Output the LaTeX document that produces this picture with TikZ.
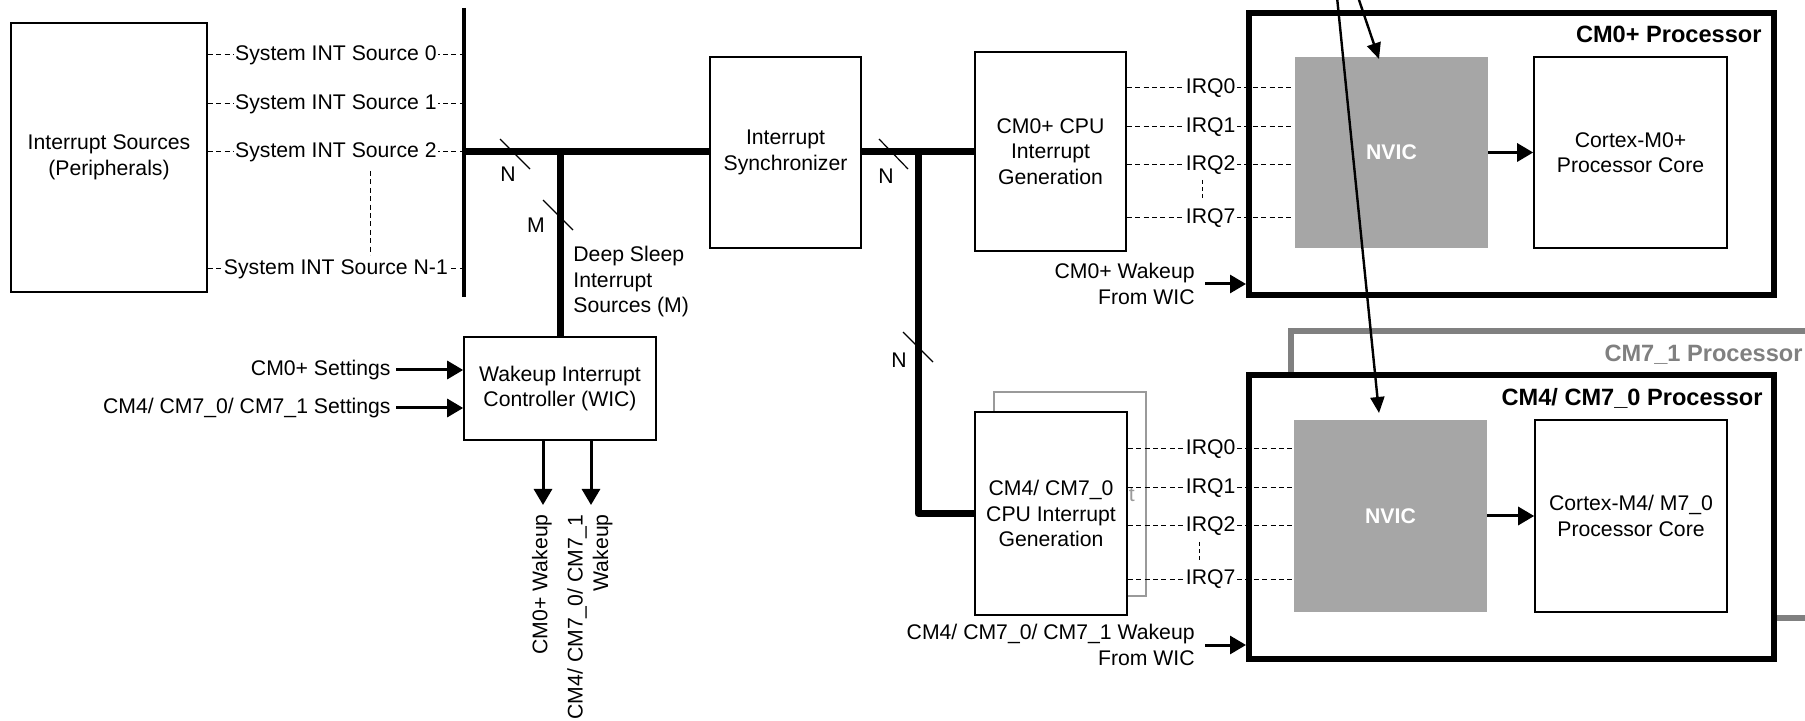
\documentclass[tikz,border=0pt]{standalone}
\usepackage{fontspec}
\setmainfont{Liberation Sans}
\usetikzlibrary{arrows.meta,fit}
\definecolor{nvicgray}{HTML}{A6A6A6}
\definecolor{procgray}{HTML}{808080}
\definecolor{backgray}{HTML}{9A9A9A}
\begin{document}
\begin{tikzpicture}[x=0.5pt,y=-0.5pt,
 font=\fontsize{10.6pt}{12.75pt}\selectfont,
 box/.style={draw, line width=0.8pt, inner sep=0pt},
 btxt/.style={inner sep=0pt, align=center},
 proc/.style={draw, line width=3pt, inner sep=0pt, fill=white},
 nvic/.style={fill=nvicgray, inner sep=0pt},
 nvtxt/.style={inner sep=0pt, text=white, font=\fontsize{10.6pt}{12.75pt}\selectfont\bfseries},
 dsh/.style={line width=0.5pt, dash pattern=on 2.5pt off 1.7pt},
 lbl/.style={fill=white, inner sep=0.6pt},
 thickbus/.style={line width=3.5pt, line join=round},
 arr/.style={line width=1.5pt, -{Triangle[length=8pt,width=9pt]}},
 tarr/.style={line width=1.2pt, -{Triangle[length=8pt,width=7pt]}},
 slash/.style={line width=0.6pt},
 txt/.style={inner sep=0pt},
 ptitle/.style={font=\fontsize{11.8pt}{14pt}\selectfont\bfseries, anchor=east, inner sep=0pt},
]
\clip (0,0) rectangle (1805,721);

% interrupt sources
\node[box, fit={(11,23) (207,292)}] (src) {};
\node[btxt] (srct) at (src.center) {Interrupt Sources\\(Peripherals)};
\coordinate (bt) at (464,8);
\coordinate (bb) at (464,297);
\draw[line width=1.65pt] (bt) -- (bb);
\foreach \y/\t [count=\i] in {55/System INT Source 0, 104/System INT Source 1, 152/System INT Source 2, 269/System INT Source N-1} {
  \coordinate (b\i) at (464,\y);
  \draw[dsh] (src.east |- b\i) -- node[lbl] (s\i) {\t} (b\i);
}
\coordinate (v1) at (370,171);
\coordinate (v2) at (370,255);
\draw[dsh] (v1) -- (v2);

% synchronizer and WIC
\node[box, fit={(710,57) (861,248)}] (sync) {};
\node[btxt] (synct) at (sync.center) {Interrupt\\Synchronizer};
\node[box, fit={(464,337) (656,440)}] (wic) {};
\node[btxt] (wict) at (wic.center) {Wakeup Interrupt\\Controller (WIC)};
\coordinate (j1) at (560,152);
\draw[thickbus] (b3) -- (b3 -| sync.west);
\draw[thickbus] (j1) -- (j1 |- wic.north);
\draw[slash] (500,139) -- (530,169);
\node[txt] (n1) at (508,174) {N};
\draw[slash] (543,200) -- (573,230);
\node[txt] (m1) at (536,225) {M};
\node[txt, anchor=west, align=left] (ds) at (573,282) {Deep Sleep\\Interrupt\\Sources (M)};

% settings
\node[txt, anchor=east] (st0) at (391,370) {CM0+ Settings};
\node[txt, anchor=east] (st1) at (391,408) {CM4/ CM7\_0/ CM7\_1 Settings};
\draw[arr] ([xshift=2.5pt]st0.east) -- (st0.east -| wic.west);
\draw[arr] ([xshift=2.5pt]st1.east) -- (st1.east -| wic.west);

% wakeup outputs
\coordinate (wa) at (543,505);
\coordinate (wb) at (591,505);
\draw[arr] (wa |- wic.south) -- (wa);
\draw[arr] (wb |- wic.south) -- (wb);
\node[txt, rotate=90, anchor=east] (wla) at (542,514) {CM0+ Wakeup};
\node[txt, rotate=90, anchor=east, align=right] (wlb) at (590,514) {CM4/ CM7\_0/ CM7\_1\\Wakeup};

% interrupt generation
\node[box, fit={(975,52) (1126,251)}] (g0) {};
\node[btxt] (g0t) at (g0.center) {CM0+ CPU\\Interrupt\\Generation};
\draw[thickbus] (sync.east |- b3) -- (b3 -| g0.west);
\draw[slash] (879,139) -- (908,169);
\node[txt] (n2) at (886,176) {N};
\node[box, draw=backgray, fit={(994,392) (1146,596)}] (g1b) {};
\node[btxt, text=backgray] (g1bt) at (g1b.center) {CM7\_1\\CPU Interrupt\\Generation};
\node[box, fill=white, fit={(975,412) (1127,615)}] (g1) {};
\node[btxt] (g1t) at (g1.center) {CM4/ CM7\_0\\CPU Interrupt\\Generation};
\coordinate (j2) at (918,152);
\draw[thickbus] (j2) |- (g1.west);
\draw[slash] (903,332) -- (933,362);
\node[txt] (n3) at (899,360) {N};

% processors
\node[draw=procgray, line width=2.7pt, inner sep=0pt, fit={(1291,331) (1850,618)}] (cm71) {};
\node[ptitle, text=procgray] (cm71t) at (1803,355) {CM7\_1 Processor};
\node[proc, fit={(1249,13) (1774,295)}] (p0) {};
\node[proc, fit={(1249,375) (1774,659)}] (p1) {};
\node[ptitle] (p0t) at (1762,34) {CM0+ Processor};
\node[ptitle] (p1t) at (1763,398) {CM4/ CM7\_0 Processor};

\node[nvic, fit={(1295,57) (1488,248)}] (nv0) {};
\node[nvtxt] (nv0t) at (nv0.center) {NVIC};
\node[box, fit={(1534,57) (1727,248)}] (c0) {};
\node[btxt] (c0t) at (c0.center) {Cortex-M0+\\Processor Core};
\node[nvic, fit={(1294,420) (1487,612)}] (nv1) {};
\node[nvtxt] (nv1t) at (nv1.center) {NVIC};
\node[box, fit={(1535,420) (1727,612)}] (c1) {};
\node[btxt] (c1t) at (c1.center) {Cortex-M4/ M7\_0\\Processor Core};
\draw[arr] (nv0) -- (c0);
\draw[arr] (nv1) -- (c1);

% IRQ lines
\foreach \y/\t in {88/IRQ0,127/IRQ1,165/IRQ2,218/IRQ7}
  \draw[dsh] (g0.east |- 0,\y) -- node[lbl] {\t} (nv0.west |- 0,\y);
\foreach \y/\t in {449/IRQ0,488/IRQ1,526/IRQ2,579/IRQ7}
  \draw[dsh] (g1.east |- 0,\y) -- node[lbl] {\t} (nv1.west |- 0,\y);
\coordinate (q1) at (1202,180);
\coordinate (q2) at (1202,200);
\draw[dsh, dash pattern=on 2pt off 1.5pt] (q1) -- (q2);
\coordinate (q3) at (1199,542);
\coordinate (q4) at (1199,562);
\draw[dsh, dash pattern=on 2pt off 1.5pt] (q3) -- (q4);

% wakeup inputs
\node[txt, anchor=east, align=right] (wk0) at (1195,284) {CM0+ Wakeup\\From WIC};
\node[txt, anchor=east, align=right] (wk1) at (1195,645) {CM4/ CM7\_0/ CM7\_1 Wakeup\\From WIC};
\draw[arr] ([xshift=5pt]wk0.east) -- (wk0.east -| p0.west);
\draw[arr] ([xshift=5pt]wk1.east) -- (wk1.east -| p1.west);

% lines entering from above
\coordinate (t1s) at (1337,-3);
\coordinate (t1e) at (1379,413);
\coordinate (t2s) at (1358,-3);
\coordinate (t2e) at (1379,59);
\draw[tarr] (t1s) -- (t1e);
\draw[tarr] (t2s) -- (t2e);
\end{tikzpicture}
\end{document}
